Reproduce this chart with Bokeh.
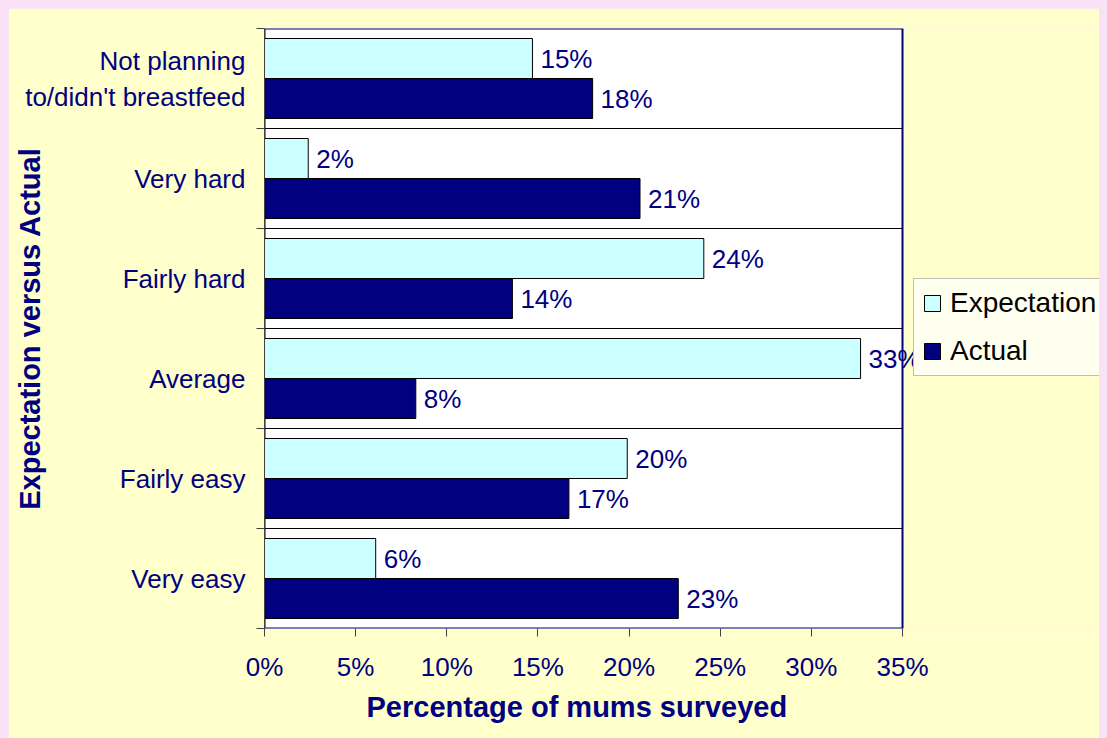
from bokeh.plotting import figure
from bokeh.models import (Range1d, FixedTicker, PrintfTickFormatter, ColumnDataSource,
                          LabelSet, Legend, LegendItem, Title)
from bokeh.core.properties import value
from bokeh.embed import file_html
from bokeh.resources import INLINE

# ---- data (top to bottom) ----
categories = ["Not planning\nto/didn't breastfeed", "Very hard", "Fairly hard",
              "Average", "Fairly easy", "Very easy"]
expectation = [14.7, 2.4, 24.1, 32.7, 19.9, 6.1]
actual = [18.0, 20.6, 13.6, 8.3, 16.7, 22.7]
series_names = ["Expectation", "Actual"]
x_ticks = [0, 5, 10, 15, 20, 25, 30, 35]

NAVY = "#000080"
CYAN = "#CCFFFF"
YELLOW = "#FFFFCC"
FONT = "Liberation Sans"

# layout (pixels)
W, H = 1099, 730
LEFT, TOP, BOTTOM = 256, 20, 110
AXIS_PX = 638          # width of the 0..35% plot area
FRAME_PX = W - LEFT    # frame runs to the right edge (legend lives there)

n = len(categories)
x_max = x_ticks[-1]
x_end = x_max * FRAME_PX / AXIS_PX
centers = [n - 1 - i + 0.5 for i in range(n)]
exp_y = [c + 0.2 for c in centers]
act_y = [c - 0.2 for c in centers]

src_e = ColumnDataSource(dict(y=exp_y, right=expectation,
                              label=[f"{round(v)}%" for v in expectation]))
src_a = ColumnDataSource(dict(y=act_y, right=actual,
                              label=[f"{round(v)}%" for v in actual]))

p = figure(width=W, height=H, x_range=Range1d(0, x_end), y_range=Range1d(0, n),
           output_backend="svg", toolbar_location=None,
           min_border_left=LEFT, min_border_right=0, min_border_top=TOP,
           min_border_bottom=BOTTOM)
p.styles = {"outline": "2px solid #333399"}

p.border_fill_color = YELLOW
p.background_fill_color = YELLOW
p.outline_line_color = None

# plot area (white, navy border)
p.quad(left=[0], right=[x_max], bottom=[0], top=[n], fill_color="white",
       line_color=NAVY, line_width=2)
# category separators
p.segment(x0=[0] * (n - 1), x1=[x_max] * (n - 1), y0=list(range(1, n)),
          y1=list(range(1, n)), line_color="black", line_width=1)

r_e = p.hbar(y="y", right="right", left=0, height=0.4, source=src_e,
             fill_color=CYAN, line_color="black", line_width=1)
r_a = p.hbar(y="y", right="right", left=0, height=0.4, source=src_a,
             fill_color=NAVY, line_color="black", line_width=1)

for src in (src_e, src_a):
    p.add_layout(LabelSet(x="right", y="y", text="label", source=src, x_offset=8,
                          text_baseline="middle", text_align="left",
                          text_color=NAVY, text_font=value(FONT),
                          text_font_size="26px"))

p.xgrid.visible = False
p.ygrid.visible = False

# x axis
xa = p.xaxis[0]
xa.ticker = FixedTicker(ticks=x_ticks)
xa.formatter = PrintfTickFormatter(format="%d%%")
xa.major_tick_out = 8
xa.major_tick_in = 0
xa.minor_tick_line_color = None
xa.major_tick_line_color = "#404040"
xa.axis_line_color = None
xa.major_label_text_font = FONT
xa.major_label_text_font_size = "26px"
xa.major_label_text_color = NAVY
xa.major_label_standoff = 15

xtitle = Title(text="Percentage of mums surveyed", align="left", offset=102,
               text_font=FONT, text_font_style="bold", text_font_size="29px",
               text_color=NAVY, standoff=8)
p.add_layout(xtitle, "below")

# y axis
ya = p.yaxis[0]
ya.ticker = FixedTicker(ticks=centers, minor_ticks=list(range(0, n + 1)))
ya.major_label_overrides = {c: lab for c, lab in zip(centers, categories)}
ya.major_tick_out = 0
ya.major_tick_in = 0
ya.major_tick_line_color = None
ya.minor_tick_out = 8
ya.minor_tick_in = 0
ya.minor_tick_line_color = "#404040"
ya.axis_line_color = "#404040"
ya.major_label_text_font = FONT
ya.major_label_text_font_size = "26px"
ya.major_label_text_color = NAVY
ya.major_label_standoff = 11
ya.axis_label = "Expectation versus Actual"
ya.axis_label_text_font = FONT
ya.axis_label_text_font_style = "bold"
ya.axis_label_text_font_size = "29px"
ya.axis_label_text_color = NAVY
ya.axis_label_standoff = -24

legend = Legend(items=[LegendItem(label=series_names[0], renderers=[r_e]),
                       LegendItem(label=series_names[1], renderers=[r_a])],
                location=(649, 252))
legend.label_text_font = FONT
legend.label_text_font_size = "28px"
legend.label_text_color = "black"
legend.glyph_width = 20
legend.glyph_height = 20
legend.label_standoff = 8
legend.label_width = 175
legend.padding = 8
legend.spacing = 16
legend.border_line_color = "#808080"
legend.border_line_width = 1
legend.background_fill_color = "#FFFFF0"
legend.background_fill_alpha = 1
p.add_layout(legend)

html = file_html(p, INLINE)
html = html.replace(
    "</head>",
    "<style>html,body{background:#F9E1F7 !important;overflow:hidden !important;}"
    "body{margin:8px !important;}</style></head>", 1)
open("out.html", "w").write(html)
